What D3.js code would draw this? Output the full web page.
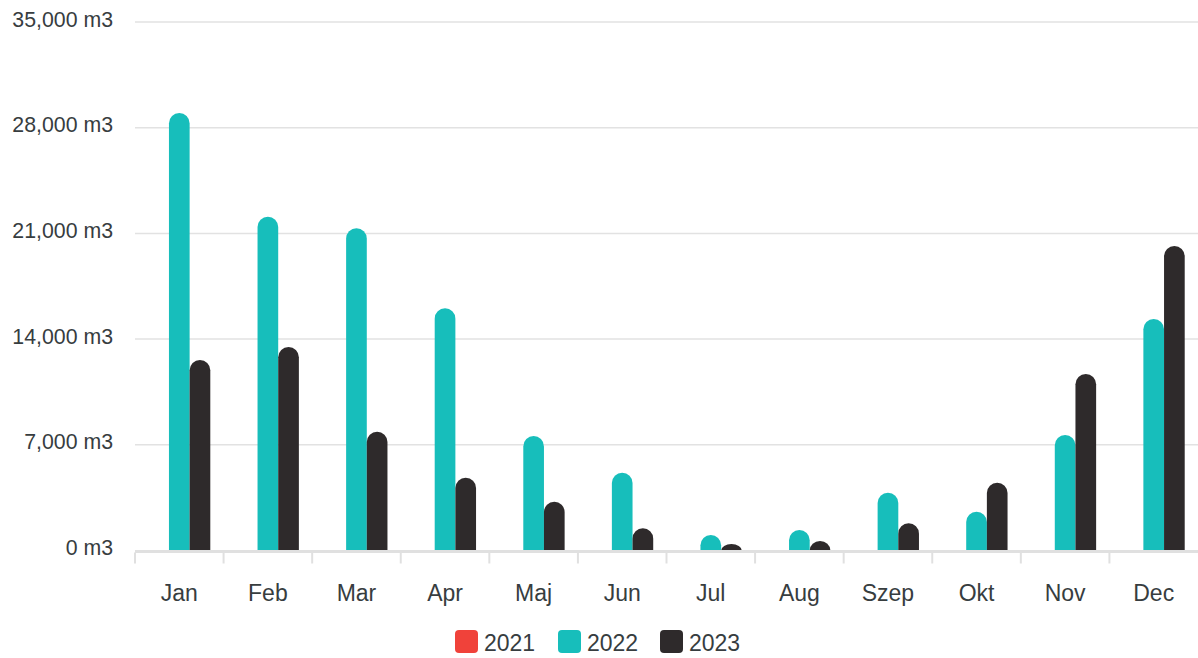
<!DOCTYPE html>
<html>
<head>
<meta charset="utf-8">
<script src="https://cdn.jsdelivr.net/npm/d3@7"></script>
<style>
  html,body{margin:0;padding:0;background:#fff;}
  svg{display:block;font-family:"Liberation Sans",Arial,sans-serif;}
</style>
</head>
<body>
<svg id="chart" width="1198" height="658"></svg>
<script>
const categories = ["Jan","Feb","Mar","Apr","Maj","Jun","Jul","Aug","Szep","Okt","Nov","Dec"];
const seriesNames = ["2021","2022","2023"];
const seriesColors = ["#F0423A","#17BEBB","#2E2A2B"];
const values2021 = [0,0,0,0,0,0,0,0,0,0,0,0];
const values2022 = [28970,22110,21340,16040,7580,5150,1030,1360,3830,2570,7650,15330];
const values2023 = [12620,13480,7870,4820,3230,1470,430,630,1800,4490,11690,20170];
const yTicks = [0,7000,14000,21000,28000,35000];

const seriesValues = [values2021, values2022, values2023];

const svg = d3.select("#chart");
const plotLeft = 135, plotRight = 1198, plotTop = 22, plotBottom = 550.5;

const x = d3.scaleBand().domain(categories).range([plotLeft, plotRight]).paddingInner(0).paddingOuter(0);
const groupW = x.bandwidth() * 0.7;
const xs = d3.scaleBand().domain(seriesNames).range([0, groupW]);
const y = d3.scaleLinear().domain([0, 35000]).range([plotBottom, plotTop]);

const fmt = d3.format(",");

// gridlines
svg.append("g").selectAll("line").data(yTicks.filter(d => d > 0)).join("line")
  .attr("x1", plotLeft).attr("x2", plotRight)
  .attr("y1", d => y(d)).attr("y2", d => y(d))
  .attr("stroke", "#e2e2e2").attr("stroke-width", 1.5);

// y labels
svg.append("g").selectAll("text").data(yTicks).join("text")
  .attr("x", 113).attr("y", d => y(d) + 4.5)
  .attr("text-anchor", "end")
  .attr("font-size", 21.3).attr("fill", "#373d3f")
  .text(d => fmt(d) + " m3");

// bars
function barPath(x0, w, yTop, yBase) {
  const h = yBase - yTop;
  if (h <= 0) return "";
  const r = w / 2;
  const ry = Math.min(r, h);
  return `M${x0},${yBase} L${x0},${yTop + ry} A${r},${ry} 0 0 1 ${x0 + w},${yTop + ry} L${x0 + w},${yBase} Z`;
}

const barsG = svg.append("g");
seriesNames.forEach((s, si) => {
  barsG.append("g").selectAll("path").data(categories).join("path")
    .attr("d", (c, i) => {
      const x0 = x(c) + (x.bandwidth() - groupW) / 2 + xs(s);
      return barPath(x0, xs.bandwidth(), y(seriesValues[si][i]), y(0));
    })
    .attr("fill", seriesColors[si]);
});

// x axis line
svg.append("line").attr("x1", plotLeft).attr("x2", plotRight)
  .attr("y1", plotBottom + 1).attr("y2", plotBottom + 1)
  .attr("stroke", "#e0e0e0").attr("stroke-width", 3);

// ticks
const tickXs = categories.map(c => x(c));
svg.append("g").selectAll("line").data(tickXs).join("line")
  .attr("x1", d => d).attr("x2", d => d)
  .attr("y1", plotBottom + 2).attr("y2", plotBottom + 13)
  .attr("stroke", "#e0e0e0").attr("stroke-width", 2);

// x labels
svg.append("g").selectAll("text").data(categories).join("text")
  .attr("x", c => x(c) + x.bandwidth() / 2).attr("y", 600.5)
  .attr("text-anchor", "middle")
  .attr("font-size", 23).attr("fill", "#373d3f")
  .text(c => c);

// legend
const legendX = [455, 558, 660];
const lg = svg.append("g");
seriesNames.forEach((s, i) => {
  lg.append("rect").attr("x", legendX[i]).attr("y", 630).attr("width", 23).attr("height", 23)
    .attr("rx", 4).attr("fill", seriesColors[i]);
  lg.append("text").attr("x", legendX[i] + 29).attr("y", 650.5)
    .attr("font-size", 23).attr("fill", "#373d3f")
    .text(s);
});
</script>
</body>
</html>
